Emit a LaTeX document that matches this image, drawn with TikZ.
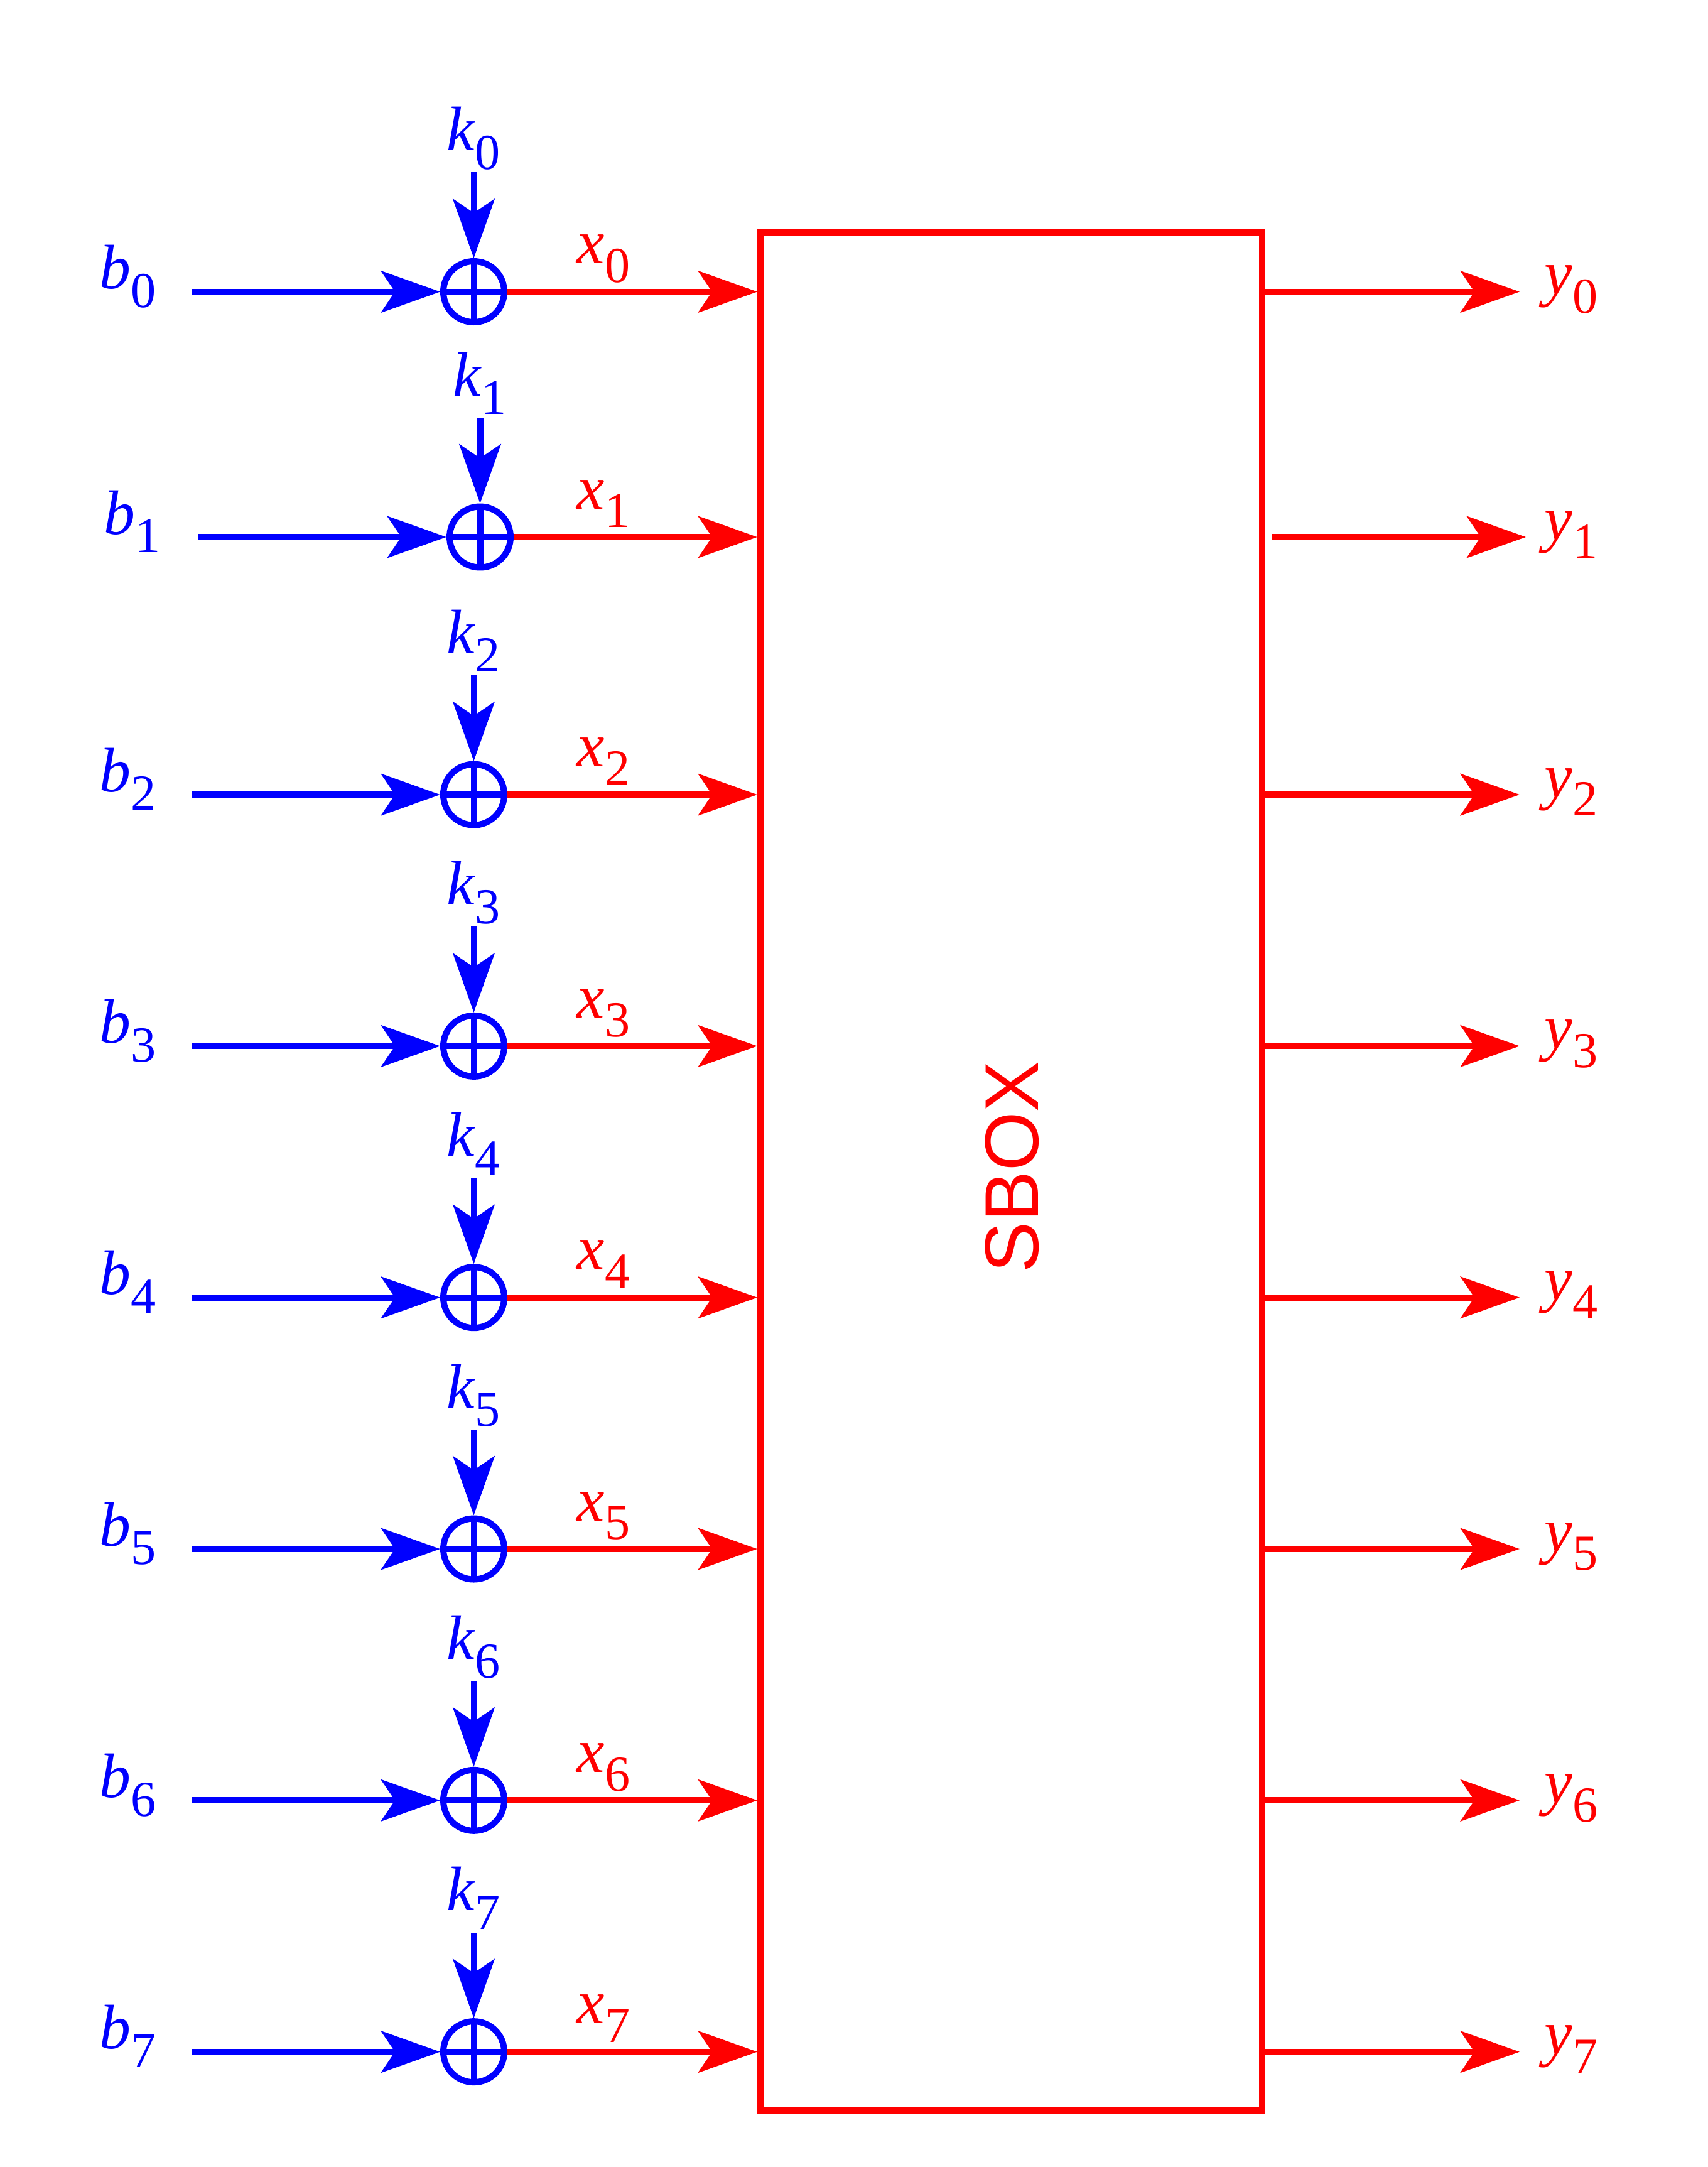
\documentclass[tikz,border=0pt]{standalone}
\usepackage{fontspec}
\setmainfont{Liberation Serif}
\setsansfont{Liberation Sans}
\usetikzlibrary{arrows.meta}
\tikzset{
  wire/.style={line width=1mm, -{Stealth[length=9.4mm, width=6.6mm, inset=2.2mm]}},
  xorgate/.style={
    draw=blue, circle, line width=1mm,
    minimum size=9.7mm, inner sep=0pt,
    path picture={\draw[blue, line width=1mm]
      (path picture bounding box.north) -- (path picture bounding box.south)
      (path picture bounding box.west) -- (path picture bounding box.east);}
  },
  lab/.style={anchor=base, inner sep=0pt, font=\fontsize{28.45}{30}\selectfont},
  sboxstyle/.style={draw=red, line width=1mm, inner sep=0pt,
    minimum width=7.99cm, minimum height=29.9cm},
}
\newcommand{\sublab}[2]{\textit{#1}\raisebox{-8.5pt}{\fontsize{22.8}{24}\selectfont #2}}

\begin{document}
\begin{tikzpicture}
  \useasboundingbox (0,0) rectangle (27.2,-34.5);

  \node[sboxstyle] (sbox) at (16.105,-18.65) {};
  \node[red, rotate=90, font=\sffamily\fontsize{34.5}{36}\selectfont]
    (sboxtext) at (16.12,-18.58) {SBOX};

  % one row per key bit
  \foreach \i/\yy/\dx in {0/4.645/0, 1/8.55/0.1, 2/12.651/0, 3/16.654/0,
                          4/20.657/0, 5/24.66/0, 6/28.663/0, 7/32.666/0} {
    \node[xorgate] (c\i) at (7.545+\dx,-\yy) {};
    \coordinate (bs\i) at (3.05+\dx,-\yy);
    \coordinate (ks\i) at (7.545+\dx,-\yy+1.90);
    \coordinate (ye\i) at (24.20+\dx,-\yy);

    \node[lab, blue] (b\i) at (2.04+0.7*\dx,-\yy+0.05) {\sublab{b}{\i}};
    \node[lab, blue] (k\i) at (7.54+\dx,-\yy+2.25)     {\sublab{k}{\i}};
    \node[lab, red]  (x\i) at (9.61,-\yy+0.45)          {\sublab{x}{\i}};
    \node[lab, red]  (y\i) at (25.02,-\yy-0.04)         {\sublab{y}{\i}};

    \draw[wire, blue] (bs\i) -- (c\i);
    \draw[wire, blue] (ks\i) -- (c\i);
    \draw[wire, red] (c\i) -- (sbox.west |- c\i);
    \draw[wire, red, shorten <={\dx cm}] (sbox.east |- c\i) -- (ye\i);
  }
\end{tikzpicture}
\end{document}
